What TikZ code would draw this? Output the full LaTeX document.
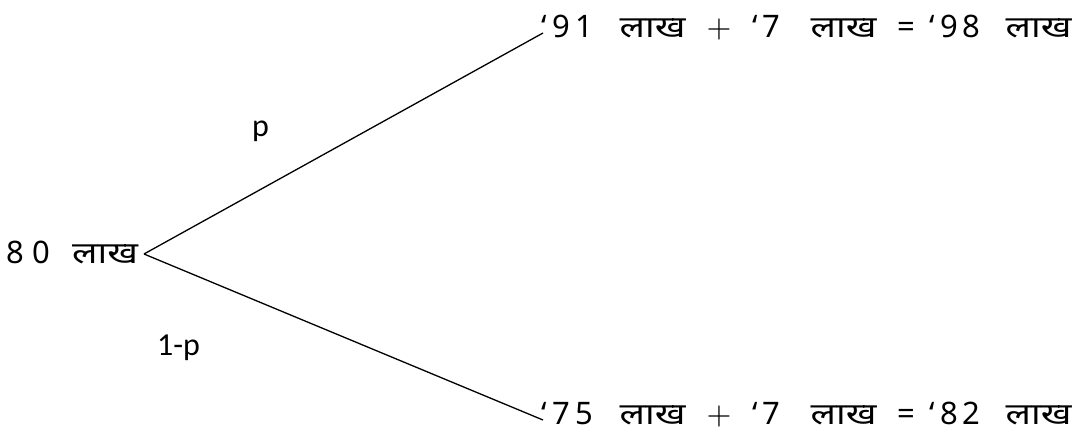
\documentclass[tikz,border=0pt]{standalone}
\usepackage{fontspec}
\setmainfont{Carlito}
\newfontfamily\deva[Script=Devanagari]{Noto Sans}
\newcommand{\lakh}{\scalebox{1.25}[1]{\fontsize{30}{36}\selectfont लाख}}
\newcommand{\at}[2]{\makebox[0pt][l]{\hspace*{#1pt}#2}}
\newcommand{\thinplus}{\scalebox{3.2}{\normalsize$+$}}
\begin{document}
\begin{tikzpicture}[x=1pt,y=1pt,
  amt/.style={inner sep=0pt, anchor=base west, font=\deva\fontsize{31}{36}\selectfont},
  prob/.style={inner sep=0pt, anchor=base west, font=\fontsize{32}{38}\selectfont},
  branch/.style={line width=1.3pt}]
\useasboundingbox (0,0) rectangle (1082,432);
\node[amt] (root) at (8,169) {\at{-1.5}{8}\at{24}{0}\at{64}{\lakh}\phantom{80 लाख}};
\coordinate (apex) at (144,178);
\node[amt] (up) at (540,394) {\at{1}{‘}\at{12}{9}\at{35}{1}\at{79}{\lakh}\at{166}{\thinplus}\at{212}{‘}\at{222}{7}\at{270}{\lakh}\at{357}{=}\at{389}{‘}\at{400}{9}\at{422}{8}\at{465}{\lakh}};
\node[amt] (down) at (540,8) {\at{1}{‘}\at{12}{7}\at{35}{5}\at{79}{\lakh}\at{166}{\thinplus}\at{212}{‘}\at{222}{7}\at{270}{\lakh}\at{357}{=}\at{389}{‘}\at{400}{8}\at{422}{2}\at{465}{\lakh}};
\coordinate (upend) at (543,399);
\coordinate (downend) at (543,12);
\draw[branch] (apex) -- (upend);
\draw[branch] (apex) -- (downend);
\node[prob] (p) at (252,295) {p};
\node[prob] (q) at (157,77) {1-p};
\end{tikzpicture}
\end{document}
